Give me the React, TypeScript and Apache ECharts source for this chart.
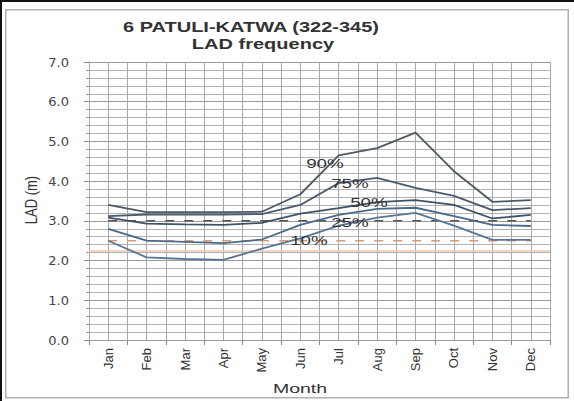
import React, { useEffect, useRef } from "react";
import * as echarts from "echarts";

const months = ["Jan", "Feb", "Mar", "Apr", "May", "Jun", "Jul", "Aug", "Sep", "Oct", "Nov", "Dec"];
const p90 = [3.4, 3.22, 3.22, 3.22, 3.23, 3.67, 4.65, 4.83, 5.22, 4.25, 3.48, 3.52];
const p75 = [3.12, 3.16, 3.16, 3.16, 3.17, 3.4, 3.95, 4.08, 3.83, 3.63, 3.27, 3.32];
const p50 = [3.08, 2.93, 2.91, 2.9, 2.95, 3.18, 3.32, 3.47, 3.52, 3.4, 3.06, 3.15];
const p25 = [2.8, 2.5, 2.47, 2.44, 2.53, 2.9, 3.15, 3.3, 3.33, 3.12, 2.9, 2.87];
const p10 = [2.5, 2.08, 2.04, 2.02, 2.3, 2.56, 2.88, 3.08, 3.2, 2.88, 2.52, 2.52];
const ref30 = [3.0, 3.0, 3.0, 3.0, 3.0, 3.0, 3.0, 3.0, 3.0, 3.0, 3.0, 3.0];
const ref25 = [2.5, 2.5, 2.5, 2.5, 2.5, 2.5, 2.5, 2.5, 2.5, 2.5, 2.5, 2.5];
const faintLevel = 2.25;

// grid structure (axis settings, not data)
const yMin = 0;
const yMax = 7;
const yMajor = 1;
const yMinorSplits = 5;
const halfCategorySteps = months.length * 2;

const seriesDefs = [
  { name: "90%", data: p90, color: "#4f5964" },
  { name: "75%", data: p75, color: "#4a5a6b" },
  { name: "50%", data: p50, color: "#3e5268" },
  { name: "25%", data: p25, color: "#4a6988" },
  { name: "10%", data: p10, color: "#587694" },
];

export default function App() {
  const ref = useRef<HTMLDivElement>(null);
  useEffect(() => {
    const chart = echarts.init(ref.current!, null, { renderer: "svg" });

    const hLines: any[] = [];
    const nMinor = ((yMax - yMin) / yMajor) * yMinorSplits;
    for (let i = 0; i <= nMinor; i++) {
      const v = +(yMin + (i * yMajor) / yMinorSplits).toFixed(3);
      const major = i % yMinorSplits === 0;
      hLines.push({
        yAxis: v,
        lineStyle: { color: major ? "#9a9a9a" : "#b2b2b2", width: 1, type: "solid" },
      });
    }
    const vLines: any[] = [];
    for (let k = 0; k <= halfCategorySteps; k++) {
      vLines.push({ xAxis: k, lineStyle: { color: "#a8a8a8", width: 1, type: "solid" } });
    }

    const gridSeries: any[] = [
      {
        type: "line",
        name: "hgrid",
        xAxisIndex: 0,
        yAxisIndex: 0,
        data: [],
        symbol: "none",
        silent: true,
        z: 3,
        markLine: { silent: true, symbol: "none", label: { show: false }, data: hLines, z: 3 },
      },
      {
        type: "line",
        name: "vgrid",
        xAxisIndex: 1,
        yAxisIndex: 0,
        data: [],
        symbol: "none",
        silent: true,
        z: 3,
        markLine: { silent: true, symbol: "none", label: { show: false }, data: vLines, z: 3 },
      },
    ];

    const lineSeries: any[] = seriesDefs.map((s) => ({
      type: "line",
      name: s.name,
      data: s.data,
      xAxisIndex: 0,
      yAxisIndex: 0,
      symbol: "none",
      silent: true,
      lineStyle: { color: s.color, width: 1.8 },
      z: 6,
    }));
    lineSeries.push({
      type: "line",
      name: "ref30",
      data: ref30,
      symbol: "none",
      silent: true,
      lineStyle: { color: "#555", width: 1.5, type: [9, 10] },
      z: 5,
      markLine: {
        silent: true,
        symbol: "none",
        label: { show: false },
        lineStyle: { color: "#ecc9b2", width: 1.5, type: "solid" },
        data: [{ yAxis: faintLevel }],
      },
    });
    lineSeries.push({
      type: "line",
      name: "ref25",
      data: ref25,
      symbol: "none",
      silent: true,
      lineStyle: { color: "#d99a78", width: 1.5, type: [9, 10] },
      z: 5,
    });

    const txt = (text: string, x: number, y: number, font: string, sx: number) => ({
      type: "text",
      x,
      y,
      scaleX: sx,
      silent: true,
      z: 20,
      style: {
        text,
        font,
        fill: "#333",
        align: "center",
        verticalAlign: "middle",
        textAlign: "center",
        textVerticalAlign: "middle",
      },
    });

    chart.setOption({
      animation: false,
      grid: { left: 89, right: 24, top: 62, bottom: 61 },
      xAxis: [
        {
          type: "category",
          data: months,
          boundaryGap: true,
          axisLine: { show: true, lineStyle: { color: "#8a8a8a", width: 1 } },
          axisTick: { show: true, length: 5, lineStyle: { color: "#8a8a8a" } },
          axisLabel: {
            rotate: 90,
            margin: 8,
            fontSize: 13,
            color: "#333",
            fontFamily: "Liberation Sans",
          },
          splitLine: { show: false },
        },
        {
          type: "value",
          min: 0,
          max: halfCategorySteps,
          interval: 1,
          position: "top",
          show: false,
          splitLine: { show: false },
        },
      ],
      yAxis: {
        type: "value",
        min: yMin,
        max: yMax,
        interval: yMajor,
        axisLine: { show: true, lineStyle: { color: "#8a8a8a" } },
        axisTick: { show: true, length: 5, lineStyle: { color: "#8a8a8a" } },
        minorTick: { show: true, splitNumber: yMinorSplits, length: 3, lineStyle: { color: "#999" } },
        splitLine: { show: false },
        axisLabel: {
          formatter: (v: number) => v.toFixed(1),
          margin: 20,
          fontSize: 13,
          color: "#444",
          fontFamily: "DejaVu Sans",
        },
      },
      series: [...gridSeries, ...lineSeries],
      graphic: [
        { type: "rect", shape: { x: 0, y: 0, width: 574, height: 2 }, style: { fill: "#111" }, silent: true },
        { type: "rect", shape: { x: 0, y: 0, width: 2, height: 401 }, style: { fill: "#111" }, silent: true },
        { type: "rect", shape: { x: 5, y: 9, width: 564, height: 1.5 }, style: { fill: "#b0b0b0" }, silent: true },
        { type: "rect", shape: { x: 5, y: 397, width: 564, height: 1.5 }, style: { fill: "#b0b0b0" }, silent: true },
        { type: "rect", shape: { x: 5, y: 9, width: 1.5, height: 389 }, style: { fill: "#b0b0b0" }, silent: true },
        { type: "rect", shape: { x: 567.5, y: 9, width: 1.5, height: 389 }, style: { fill: "#b0b0b0" }, silent: true },
        txt("6 PATULI-KATWA (322-345)", 251, 27, 'bold 14px "Liberation Sans"', 1.43),
        txt("LAD frequency", 263, 44, 'bold 14px "Liberation Sans"', 1.43),
        txt("Month", 300, 389, '13px "Liberation Sans"', 1.5),
        {
          type: "text",
          x: 31,
          y: 200,
          rotation: Math.PI / 2,
          scaleY: 1.3,
          silent: true,
          style: {
            text: "LAD (m)",
            font: '13px "Liberation Sans"',
            fill: "#333",
            align: "center",
            verticalAlign: "middle",
            textAlign: "center",
            textVerticalAlign: "middle",
          },
        },
        txt("90%", 325, 163, '13px "Liberation Sans"', 1.45),
        txt("75%", 350, 183, '13px "Liberation Sans"', 1.45),
        txt("50%", 369, 202, '13px "Liberation Sans"', 1.45),
        txt("25%", 350, 222, '13px "Liberation Sans"', 1.45),
        txt("10%", 309, 240, '13px "Liberation Sans"', 1.45),
      ],
    });
    return () => chart.dispose();
  }, []);
  return (
    <div
      ref={ref}
      style={{ position: "absolute", left: 0, top: 0, width: 574, height: 401 }}
    />
  );
}
